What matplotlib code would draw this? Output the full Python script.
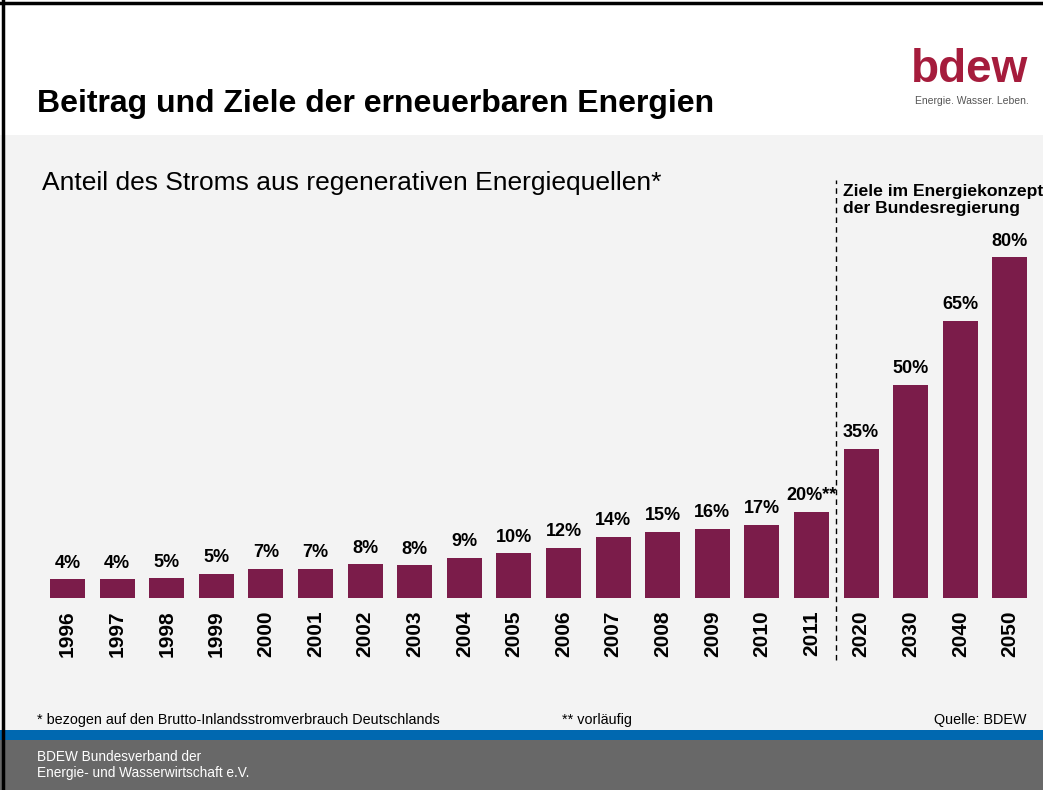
import matplotlib
matplotlib.use('Agg')
import matplotlib.pyplot as plt
from matplotlib.patches import Rectangle

years = ['1996', '1997', '1998', '1999', '2000', '2001', '2002', '2003', '2004', '2005',
         '2006', '2007', '2008', '2009', '2010', '2011', '2020', '2030', '2040', '2050']
share = [4.4, 4.4, 4.6, 5.6, 6.8, 6.8, 7.9, 7.7, 9.4, 10.5,
         11.7, 14.3, 15.5, 16.2, 17.1, 20.2, 35, 50, 65, 80]
labels = ['4%', '4%', '5%', '5%', '7%', '7%', '8%', '8%', '9%', '10%',
          '12%', '14%', '15%', '16%', '17%', '20%**', '35%', '50%', '65%', '80%']

W, H = 1043, 790
bar_col = '#7b1c4a'
arial = ['Liberation Sans', 'DejaVu Sans']

fig = plt.figure(figsize=(W / 100, H / 100), dpi=100)
fig.patch.set_facecolor('white')


def fx(x):
    return x / W


def fy(y):
    return 1 - y / H


# background bands
for y0, y1, c in [(135, 730, '#f3f3f3'), (730, 740, '#0068b0'), (740, 790, '#686868')]:
    fig.patches.append(Rectangle((0, fy(y1)), 1, fy(y0) - fy(y1), transform=fig.transFigure,
                                 facecolor=c, edgecolor='none', zorder=-5))
# frame lines top / left
fig.lines.append(plt.Line2D([0, 1], [fy(2.5), fy(2.5)], transform=fig.transFigure,
                            color='black', lw=2.5, zorder=-4))
fig.lines.append(plt.Line2D([fx(2.5), fx(2.5)], [0, 1], transform=fig.transFigure,
                            color='black', lw=2.5, zorder=-4))

# header
fig.text(fx(37), fy(112), 'Beitrag und Ziele der erneuerbaren Energien', family=arial,
         fontweight='bold', fontsize=23, va='baseline', ha='left')
fig.text(fx(1028), fy(82), 'bdew', family=arial, fontweight='bold', fontsize=33,
         color='#a51c3c', ha='right', va='baseline')
fig.text(fx(1029), fy(104), 'Energie. Wasser. Leben.', family=arial, fontsize=7.5,
         color='#555555', ha='right', va='baseline')

fig.text(fx(42), fy(190), 'Anteil des Stroms aus regenerativen Energiequellen*', family=arial,
         fontsize=19, va='baseline', ha='left')

# chart
step = 49.6
left = 67.5 - step / 2
ax = fig.add_axes([fx(left), fy(598), 20 * step / W, 426 / H])
ax.set_facecolor('none')
x = list(range(len(years)))
ax.bar(x, share, width=0.705, color=bar_col)
ax.set_xlim(-0.5, 19.5)
ax.set_ylim(0, 100)
for i in x:
    ax.text(i, share[i] + 1.8, labels[i], ha='center', va='bottom', family=arial,
            fontweight='bold', fontsize=13)
ax.set_xticks(x)
ax.set_xticklabels(years, rotation=90, family=arial, fontweight='bold', fontsize=15)
ax.tick_params(axis='x', length=0, pad=9)
ax.set_yticks([])
for s in ax.spines.values():
    s.set_visible(False)
ax.plot([15.5, 15.5], [-14.6, 98.1], color='black', lw=1, ls=(0, (4, 3)), clip_on=False)
ax.text(15.63, 97.2, 'Ziele im Energiekonzept\nder Bundesregierung', family=arial,
        fontweight='bold', fontsize=12.6, va='top', ha='left', linespacing=1.15)

# footnotes
fig.text(fx(37), fy(724), '* bezogen auf den Brutto-Inlandsstromverbrauch Deutschlands',
         family=arial, fontsize=10.4, va='baseline')
fig.text(fx(562), fy(724), '** vorläufig', family=arial, fontsize=10.4, va='baseline')
fig.text(fx(1026), fy(724), 'Quelle: BDEW', family=arial, fontsize=10.4, va='baseline', ha='right')
fig.text(fx(37), fy(761), 'BDEW Bundesverband der', family=arial, fontsize=9.8,
         va='baseline', color='white')
fig.text(fx(37), fy(777), 'Energie- und Wasserwirtschaft e.V.', family=arial, fontsize=9.8,
         va='baseline', color='white')

fig.savefig('out.png', dpi=100)
